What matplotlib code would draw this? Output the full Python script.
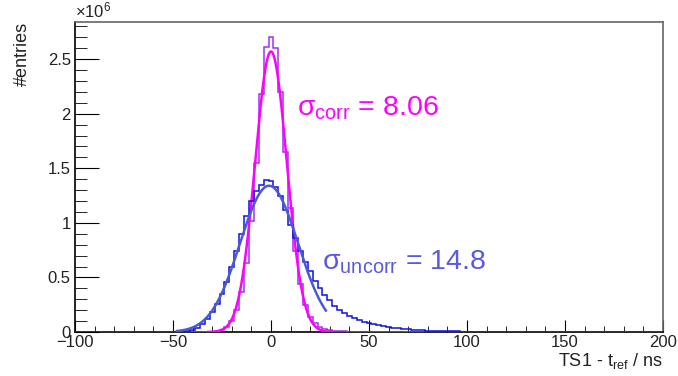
import numpy as np
import matplotlib
matplotlib.use("Agg")
import matplotlib.pyplot as plt
from matplotlib.ticker import MultipleLocator

plt.rcParams['font.family'] = ['Liberation Sans', 'DejaVu Sans']
plt.rcParams['mathtext.fontset'] = 'custom'
plt.rcParams['mathtext.rm'] = 'Liberation Sans'
plt.rcParams['mathtext.it'] = 'Liberation Sans'
plt.rcParams['mathtext.sf'] = 'Liberation Sans'

# ---- data (counts in units of 1e6) ----
bin_width = 2.5
corr_centers = [-32.5, -30, -27.5, -25, -22.5, -20, -17.5, -15, -12.5, -10, -7.5, -5, -2.5,
                0, 2.5, 5, 7.5, 10, 12.5, 15, 17.5, 20, 22.5, 25, 27.5, 30, 32.5, 35, 37.5, 40, 42.5]
corr_counts = [0.002, 0.004, 0.009, 0.02, 0.045, 0.10, 0.20, 0.37, 0.63, 1.02, 1.55, 2.18, 2.61,
               2.70, 2.60, 2.20, 1.65, 1.14, 0.74, 0.44, 0.25, 0.14, 0.08, 0.045, 0.028, 0.018, 0.012,
               0.008, 0.005, 0.003, 0.001]

uncorr_centers = [-45, -42.5, -40, -37.5, -35, -32.5, -30, -27.5, -25, -22.5, -20, -17.5, -15,
                  -12.5, -10, -7.5, -5, -2.5, 0, 2.5, 5, 7.5, 10, 12.5, 15, 17.5, 20, 22.5, 25,
                  27.5, 30, 32.5, 35, 37.5, 40, 42.5, 45, 47.5, 50, 52.5, 55, 57.5, 60, 62.5, 65,
                  67.5, 70, 72.5, 75, 77.5, 80, 82.5, 85, 87.5, 90, 92.5, 95, 97.5, 100, 102.5,
                  105, 107.5, 110, 112.5]
uncorr_counts = [0.003, 0.01, 0.02, 0.04, 0.07, 0.12, 0.18, 0.26, 0.35, 0.46, 0.60, 0.74, 0.90,
                 1.06, 1.20, 1.29, 1.35, 1.39, 1.38, 1.33, 1.25, 1.12, 0.98, 0.86, 0.74, 0.64, 0.56,
                 0.47, 0.40, 0.34, 0.29, 0.24, 0.20, 0.17, 0.145, 0.125, 0.108, 0.093, 0.08, 0.069,
                 0.06, 0.052, 0.045, 0.039, 0.034, 0.029, 0.025, 0.021, 0.018, 0.015, 0.013, 0.011,
                 0.009, 0.008, 0.007, 0.006, 0.005, 0.004, 0.0035, 0.003, 0.0025, 0.002, 0.0015, 0.001]

# Gaussian fit parameters (amplitude [1e6], mean, sigma, fit range)
corr_fit = dict(amp=2.57, mean=0.0, sigma=8.06, lo=-32, hi=32)
uncorr_fit = dict(amp=1.34, mean=-1.0, sigma=14.8, lo=-48, hi=28)

x_range = (-100, 200)
y_max = 2.84

# ---- build full-range histograms ----
edges = np.arange(x_range[0] - bin_width / 2, x_range[1] + bin_width, bin_width)
centers = edges[:-1] + bin_width / 2


def full_hist(cs, vals):
    h = np.zeros(len(centers))
    for c, v in zip(cs, vals):
        idx = int(np.argmin(np.abs(centers - c)))
        h[idx] = v * 1e6
    return h


h_corr = full_hist(corr_centers, corr_counts)
h_uncorr = full_hist(uncorr_centers, uncorr_counts)


def gauss_curve(p):
    xx = np.linspace(p['lo'], p['hi'], 400)
    return xx, p['amp'] * 1e6 * np.exp(-0.5 * ((xx - p['mean']) / p['sigma']) ** 2)


fig = plt.figure(figsize=(6.78, 3.76), dpi=100)
ax = fig.add_axes([75 / 678, 44 / 376, 588 / 678, 310 / 376])

ax.stairs(h_corr, edges, color='#a030f0', lw=1.1, zorder=3)
xc, yc = gauss_curve(corr_fit)
ax.plot(xc, yc, color='#ff00ff', lw=1.8, zorder=4)

ax.stairs(h_uncorr, edges, color='#1010e8', lw=1.1, zorder=5)
xu, yu = gauss_curve(uncorr_fit)
ax.plot(xu, yu, color='#4a5ad0', lw=1.8, zorder=6)

ax.set_xlim(*x_range)
ax.set_ylim(0, y_max * 1e6)

ax.xaxis.set_major_locator(MultipleLocator(50))
ax.xaxis.set_minor_locator(MultipleLocator(10))
ax.yaxis.set_major_locator(MultipleLocator(0.5e6))
ax.yaxis.set_minor_locator(MultipleLocator(0.1e6))
ax.yaxis.set_major_formatter(plt.FuncFormatter(lambda v, p: f"{v/1e6:g}"))

ax.tick_params(axis='both', which='both', direction='in', top=False, right=False,
               labelsize=12, colors='black', labelcolor='#222222')
ax.tick_params(axis='y', which='major', length=17, pad=3)
ax.tick_params(axis='y', which='minor', length=8.5)
ax.tick_params(axis='x', which='major', length=9, pad=2)
ax.tick_params(axis='x', which='minor', length=4.5)

for s in ['top', 'right']:
    ax.spines[s].set_color('#666666')
    ax.spines[s].set_linewidth(1.2)
for s in ['left', 'bottom']:
    ax.spines[s].set_linewidth(1.2)

fig.text(75 / 678, 1 - 17 / 376, r'$\times10^{6}$', fontsize=12, color='#222222',
         ha='left', va='baseline')
fig.text(22 / 678, 1 - 22 / 376, '#entries', rotation=90, fontsize=13, color='#222222',
         ha='center', va='top')
fig.text(663 / 678, 1 - 366 / 376, r'TS1 - t$_{\mathrm{ref}}$ / ns', fontsize=13,
         color='#222222', ha='right', va='baseline')

ax.text(13.5, 1.98e6, r'$\mathrm{σ_{corr}}$ = 8.06', fontsize=20.5, color='#ff00ff',
        ha='left', va='baseline')
ax.text(26, 0.57e6, r'$\mathrm{σ_{uncorr}}$ = 14.8', fontsize=20.5, color='#5a5ae0',
        ha='left', va='baseline')

fig.savefig('out.png', dpi=100)
